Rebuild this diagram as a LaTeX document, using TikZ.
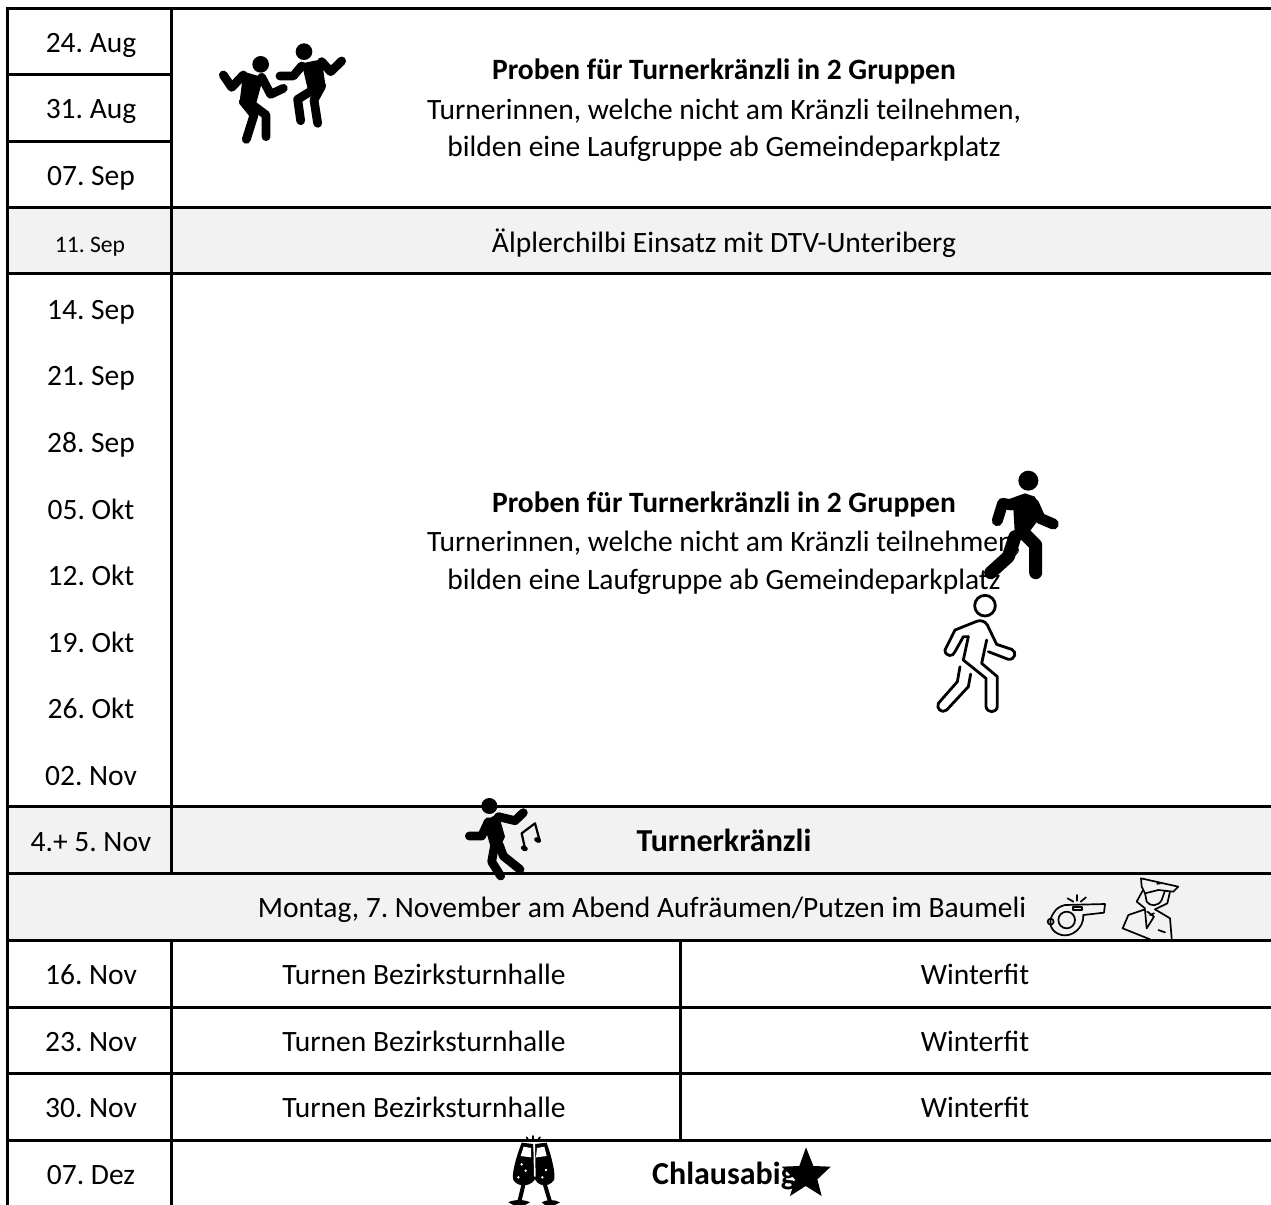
\documentclass[tikz,border=0pt]{standalone}
\usepackage{fontspec}
\setmainfont{Carlito}
\definecolor{rowgray}{HTML}{F2F2F2}
\tikzset{
  rule/.style={line width=1.5pt,black},
  cell/.style={font=\fontsize{14.75}{17}\selectfont\frenchspacing,text=black,inner sep=0pt,text height=12.9pt,text depth=2.6pt,anchor=center},
  smallcell/.style={cell,font=\fontsize{11.8}{13}\selectfont\frenchspacing},
  head/.style={cell,font=\fontsize{14.75}{17}\selectfont\bfseries\frenchspacing},
  bighead/.style={cell,font=\fontsize{16}{18}\selectfont\bfseries\frenchspacing},
  limb/.style={line width=#1,line cap=round,line join=round,black},
  outl/.style={line width=1.4pt,line cap=round,line join=round,black},
  fineoutl/.style={line width=.85pt,line cap=round,line join=round,black},
  zoomed/.style 2 args={shift={(#1,#2)},x=0.16667pt,y=-0.16667pt},
}
\begin{document}
\begin{tikzpicture}[x=0.5pt,y=-0.5pt]
\useasboundingbox (0,0) rectangle (1271,1205);
% gray rows
\fill[rowgray] (8,207) rectangle (1271,273);
\fill[rowgray] (8,806) rectangle (1271,940);
% rules
\draw[rule] (7.5,1205) -- (7.5,8.5) -- (1271,8.5);
\draw[rule] (171.5,8.5) -- (171.5,873);
\draw[rule] (171.5,940) -- (171.5,1205);
\draw[rule] (7.5,74) -- (173,74);
\draw[rule] (7.5,141) -- (173,141);
\foreach \y in {207,273,806.5,873.5,940,1007,1073,1140}
  \draw[rule] (7.5,\y) -- (1271,\y);
\draw[rule] (680.5,940) -- (680.5,1140);
% dates
\node[cell] (d1) at (91,42) {24. Aug};
\node[cell] (d2) at (91,108) {31. Aug};
\node[cell] (d3) at (91,175) {07. Sep};
\node[smallcell] (d4) at (90,242) {11. Sep};
\node[cell] (d5) at (91,309) {14. Sep};
\node[cell] (d6) at (91,375) {21. Sep};
\node[cell] (d7) at (91,442) {28. Sep};
\node[cell] (d8) at (91,509) {05. Okt};
\node[cell] (d9) at (91,575) {12. Okt};
\node[cell] (d10) at (91,642) {19. Okt};
\node[cell] (d11) at (91,708) {26. Okt};
\node[cell] (d12) at (91,775) {02. Nov};
\node[cell] (d13) at (91,841) {4.+ 5. Nov};
\node[cell] (d14) at (91,974) {16. Nov};
\node[cell] (d15) at (91,1041) {23. Nov};
\node[cell] (d16) at (91,1107) {30. Nov};
\node[cell] (d17) at (91,1174) {07. Dez};
% main texts
\node[head] (a1) at (724,69) {Proben für Turnerkränzli in 2 Gruppen};
\node[cell] (a2) at (724,109) {Turnerinnen, welche nicht am Kränzli teilnehmen,};
\node[cell] (a3) at (724,146) {bilden eine Laufgruppe ab Gemeindeparkplatz};
\node[cell] (b) at (724,242) {Älplerchilbi Einsatz mit DTV-Unteriberg};
\node[head] (c1) at (724,502) {Proben für Turnerkränzli in 2 Gruppen};
\node[cell] (c2) at (724,541) {Turnerinnen, welche nicht am Kränzli teilnehmen,};
\node[cell] (c3) at (724,579) {bilden eine Laufgruppe ab Gemeindeparkplatz};
\node[bighead] (k) at (724,841) {Turnerkränzli};
\node[cell] (m) at (642,907) {Montag, 7. November am Abend Aufräumen/Putzen im Baumeli};
\foreach \y/\n in {974/1,1041/2,1107/3}{
  \node[cell] (t\n) at (424,\y) {Turnen Bezirksturnhalle};
  \node[cell] (w\n) at (975,\y) {Winterfit};
}
\node[bighead] (ch) at (724,1174) {Chlausabig};
% dancers
\begin{scope}[zoomed={180}{0}]
  \fill (242,193) circle (25);
  \fill[line join=round] (190,215) -- (250,232) -- (228,312) -- (178,312) -- cycle;
  \draw[limb=4.4pt] (130,225) -- (155,262) -- (190,225);
  \draw[limb=4.4pt] (245,232) -- (272,283) -- (310,265);
  \draw[limb=4.4pt] (190,305) -- (222,345) -- (199,418);
  \draw[limb=4.4pt] (222,318) -- (258,345) -- (258,410);
  \fill (372,155) circle (25);
  \fill (365,190) -- (425,178) -- (437,260) -- (385,275) -- cycle;
  \draw[limb=4.4pt] (300,228) -- (340,228) -- (365,198);
  \draw[limb=4.4pt] (425,185) -- (452,215) -- (485,183);
  \draw[limb=4.4pt] (395,272) -- (353,298) -- (362,362);
  \draw[limb=4.4pt] (425,258) -- (402,300) -- (413,370);
\end{scope}
% runner and walker
\begin{scope}[zoomed={900}{450}]
  \fill (385,92) circle (30);
  \fill (305,155) -- (375,130) -- (405,140) -- (422,200) -- (385,250) -- (345,262) -- (340,175) -- cycle;
  \draw[limb=5.5pt] (335,165) -- (308,160) -- (292,212);
  \draw[limb=5.5pt] (400,160) -- (420,205) -- (460,222);
  \draw[limb=6.5pt] (345,260) -- (325,320) -- (272,368);
  \draw[limb=6.5pt] (370,248) -- (407,285) -- (407,368);
  \draw[outl] (255,467) circle (31);
  \draw[outl] (205,560) -- (190,630) -- (258,685) -- (258,770) .. controls (262,790) and (288,790) .. (292,770) -- (292,680) -- (245,640) -- (260,570);
  \draw[outl] (265,605) -- (325,628) .. controls (345,630) and (352,605) .. (335,598) -- (290,583) -- (262,525) .. controls (255,512) and (240,510) .. (230,514) -- (165,540) -- (135,600) .. controls (135,620) and (160,622) .. (165,605) -- (190,560) -- (205,560);
  \draw[outl] (180,650) -- (172,695) -- (115,760) .. controls (108,775) and (125,792) .. (140,780) -- (205,710) -- (212,672);
\end{scope}
% dancer with notes
\begin{scope}[zoomed={440}{780}]
  \fill (148,78) circle (24);
  \fill (130,125) -- (175,100) -- (195,170) -- (182,198) -- (150,195) -- cycle;
  \draw[limb=4.4pt] (145,125) -- (125,168) -- (88,168);
  \draw[limb=4.4pt] (175,110) -- (225,122) -- (250,98);
  \draw[limb=4.4pt] (165,190) -- (155,245) -- (182,288);
  \draw[limb=4.4pt] (178,195) -- (190,228) -- (240,268);
  \draw[outl,line width=1.1pt] (245,160) -- (285,130) -- (298,178);
  \draw[outl,line width=1.1pt] (245,160) -- (255,205);
  \fill[rotate around={-25:(253,205)}] (253,205) ellipse (11 and 8);
  \fill[rotate around={-25:(293,180)}] (293,180) ellipse (11 and 8);
\end{scope}
% whistle and officer
\begin{scope}[zoomed={1030}{860}]
  \draw[fineoutl] (105,135) -- (225,132) -- (222,158) -- (160,165) .. controls (162,205) and (125,232) .. (95,225) .. controls (65,218) and (50,190) .. (70,160) .. controls (78,145) and (92,138) .. (105,135);
  \draw[fineoutl] (110,180) circle (25);
  \draw[fineoutl] (62,185) circle (9);
  \draw[fineoutl] (130,142) rectangle (155,150);
  \draw[fineoutl] (130,125) -- (113,115);
  \draw[fineoutl] (140,122) -- (140,105);
  \draw[fineoutl] (152,125) -- (168,112);
  \draw[fineoutl] (333,55) -- (445,80) -- (430,95) -- (385,90) -- (345,100) -- (335,80) -- cycle;
  \draw[fineoutl] (345,100) -- (350,125) .. controls (360,140) and (385,140) .. (395,120) -- (405,92);
  \draw[fineoutl] (338,92) -- (320,125) -- (345,145);
  \draw[fineoutl] (420,95) -- (412,130) -- (375,148);
  \draw[fineoutl] (345,148) -- (295,165) -- (278,205) -- (360,238);
  \draw[fineoutl] (375,148) -- (420,175) -- (425,235);
  \draw[fineoutl] (345,150) -- (350,205) -- (372,170) -- (352,155);
  \draw[fineoutl] (385,210) -- (405,217);
  \draw[fineoutl] (360,165) -- (372,160);
  \fill (380,65) -- (395,72) -- (380,74) -- cycle;
\end{scope}
% glasses and star
\begin{scope}[zoomed={480}{1120}]
  \fill (125,68) -- (160,72) -- (168,170) .. controls (160,200) and (115,205) .. (100,180) .. controls (95,165) and (105,120) .. (125,68) -- cycle;
  \fill (165,72) -- (200,68) .. controls (215,110) and (228,165) .. (222,180) .. controls (205,205) and (170,200) .. (162,170) -- cycle;
  \fill[white] (131,80) -- (153,84) -- (153,112) -- (122,108) -- cycle;
  \fill[white] (171,84) -- (193,80) -- (200,108) -- (168,112) -- cycle;
  \fill[white] (160,72) -- (165,72) -- (167,170) -- (162,170) -- cycle;
  \fill[white] (125,133) circle (4) (137,152) circle (4) (115,172) circle (4);
  \fill[white] (198,150) circle (4) (187,172) circle (4);
  \draw[limb=2pt] (130,195) -- (118,245);
  \draw[limb=2pt] (195,195) -- (210,245);
  \fill (85,247) .. controls (100,238) and (135,238) .. (150,247) -- (135,255) -- (100,255) -- cycle;
  \fill (185,247) .. controls (200,238) and (225,238) .. (240,247) -- (225,255) -- (195,255) -- cycle;
  \draw[fineoutl] (140,52) -- (143,56);
  \draw[fineoutl] (160,48) -- (160,56);
  \draw[fineoutl] (180,52) -- (176,56);
  \fill (978,82) -- (1000,138) -- (1052,140) -- (1012,178) -- (1025,228) -- (977,198) -- (930,228) -- (945,178) -- (905,140) -- (958,138) -- cycle;
\end{scope}
\end{tikzpicture}
\end{document}
